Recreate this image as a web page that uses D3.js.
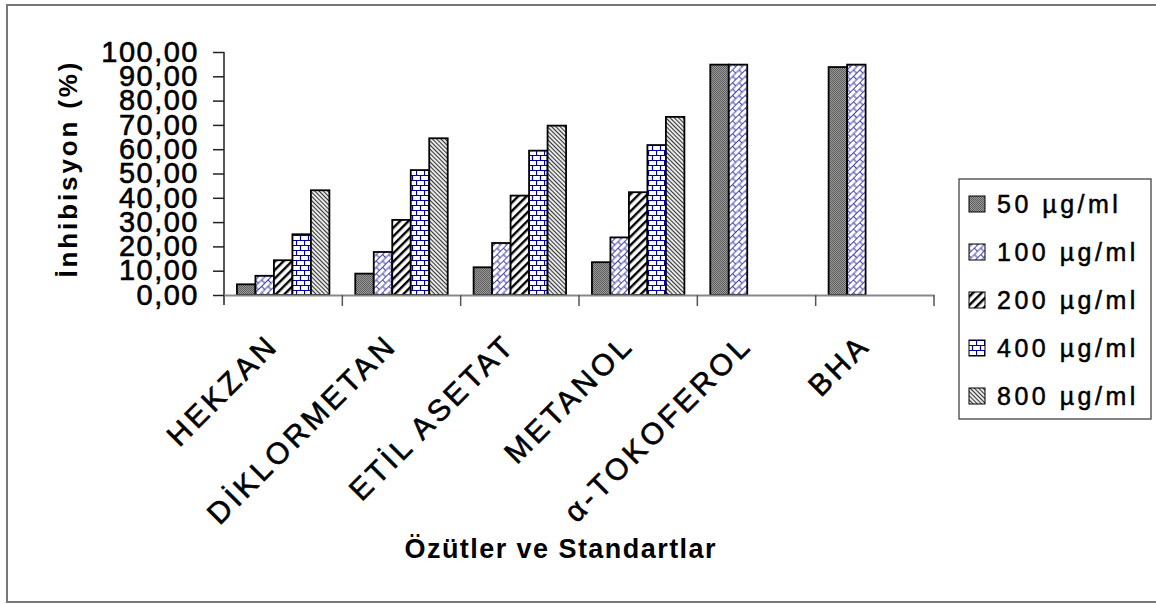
<!DOCTYPE html>
<html><head><meta charset="utf-8">
<script src="https://cdn.jsdelivr.net/npm/d3@7"></script>
<style>body{margin:0;background:#fff}svg{display:block}text{font-family:"Liberation Sans",Arial,sans-serif}</style>
</head><body><svg id="c" width="1156" height="604"></svg>
<script>
const categories = ["HEKZAN","DİKLORMETAN","ETİL ASETAT","METANOL","α-TOKOFEROL","BHA"];
const seriesNames = ["50 µg/ml","100 µg/ml","200 µg/ml","400 µg/ml","800 µg/ml"];
const v50  = [4.4, 8.8, 11.4, 13.5, 94.8, 93.8];
const v100 = [7.9, 17.7, 21.4, 23.7, 94.8, 94.8];
const v200 = [14.3, 30.9, 40.9, 42.3, null, null];
const v400 = [25.0, 51.4, 59.4, 61.7, null, null];
const v800 = [43.1, 64.5, 69.7, 73.3, null, null];
const yTicks = [0,10,20,30,40,50,60,70,80,90,100];
const yTitle = "İnhibisyon (%)";
const xTitle = "Özütler ve Standartlar";

const seriesVals = [v50, v100, v200, v400, v800];
const svg = d3.select("#c");
const defs = svg.append("defs");

// patterns
const p0 = defs.append("pattern").attr("id","p0").attr("patternUnits","userSpaceOnUse").attr("width",2).attr("height",2);
p0.append("rect").attr("width",2).attr("height",2).attr("fill","#999");
p0.append("rect").attr("width",1).attr("height",1).attr("fill","#5e5e5e");
p0.append("rect").attr("x",1).attr("y",1).attr("width",1).attr("height",1).attr("fill","#5e5e5e");

const p1 = defs.append("pattern").attr("id","p1").attr("patternUnits","userSpaceOnUse").attr("width",9).attr("height",9).attr("patternTransform","rotate(-45)");
p1.append("rect").attr("width",9).attr("height",9).attr("fill","#fff");
p1.append("path").attr("d","M0,0.5H9M0,5H9M0.5,0.5V5M5,5V9.5").attr("stroke","#4444b0").attr("stroke-width",1.1).attr("fill","none");

const p2 = defs.append("pattern").attr("id","p2").attr("patternUnits","userSpaceOnUse").attr("width",6).attr("height",6).attr("patternTransform","rotate(45)");
p2.append("rect").attr("width",6).attr("height",6).attr("fill","#fff");
p2.append("rect").attr("width",2.4).attr("height",6).attr("fill","#000");

const p3 = defs.append("pattern").attr("id","p3").attr("patternUnits","userSpaceOnUse").attr("width",8).attr("height",10);
p3.append("rect").attr("width",8).attr("height",10).attr("fill","#fff");
p3.append("path").attr("d","M0,0.5H8M0,5.5H8M0.5,0.5V5.5M4.5,5.5V10").attr("stroke","#000099").attr("stroke-width",1.2).attr("fill","none");

const p4 = defs.append("pattern").attr("id","p4").attr("patternUnits","userSpaceOnUse").attr("width",3).attr("height",3).attr("patternTransform","rotate(-45)");
p4.append("rect").attr("width",3).attr("height",3).attr("fill","#e8e8e8");
p4.append("rect").attr("width",1).attr("height",3).attr("fill","#333");

const fills = ["url(#p0)","url(#p1)","url(#p2)","url(#p3)","url(#p4)"];

// outer border
svg.append("rect").attr("x",7).attr("y",5).attr("width",1170).attr("height",597)
  .attr("fill","none").attr("stroke","#777").attr("stroke-width",2);

const x = d3.scaleBand().domain(categories).range([224, 934]).paddingInner(0).paddingOuter(0);
const cw = x.bandwidth();
const xs = d3.scaleBand().domain(seriesNames).range([cw*0.7/6.4, cw - cw*0.7/6.4]);
const y = d3.scaleLinear().domain([0,100]).range([295, 52]);

// bars
seriesVals.forEach((vals, si) => {
  svg.append("g").selectAll("rect")
    .data(categories.map((c,i)=>({c, v: vals[i]})).filter(d=>d.v!=null))
    .join("rect")
    .attr("x", d => x(d.c) + xs(seriesNames[si]))
    .attr("y", d => y(d.v))
    .attr("width", xs.bandwidth())
    .attr("height", d => y(0) - y(d.v))
    .attr("fill", fills[si])
    .attr("stroke","#000").attr("stroke-width",1.8);
});

// y axis
const ya = svg.append("g").attr("transform","translate(224,0)")
  .call(d3.axisLeft(y).tickValues(yTicks).tickSize(11).tickFormat(d => d3.format(".2f")(d).replace(".",",")));
ya.select(".domain").remove();
ya.selectAll(".tick line").attr("stroke","#222").attr("stroke-width",1.5);
ya.selectAll(".tick text").attr("x",-25).attr("font-size",29).attr("letter-spacing","1.5px")
  .attr("fill","#000").attr("stroke","#000").attr("stroke-width",0.6)
  .attr("font-family","'Liberation Sans',Arial,sans-serif");
svg.append("line").attr("x1",224).attr("x2",224).attr("y1",y(100)).attr("y2",305).attr("stroke","#222").attr("stroke-width",1.5);

// x axis
const xa = svg.append("g").attr("transform","translate(0,295)")
  .call(d3.axisBottom(x).tickSize(0).tickFormat(""));
xa.select(".domain").attr("stroke","#888").attr("stroke-width",2);
const bounds = categories.map(c => x(c)).concat([x.range()[1]]);
svg.append("g").selectAll("line").data(bounds.slice(1)).join("line")
  .attr("x1",d=>d).attr("x2",d=>d).attr("y1",295).attr("y2",306).attr("stroke","#555").attr("stroke-width",1.5);

// category labels
svg.append("g").selectAll("text").data(categories).join("text")
  .attr("transform", d => `translate(${x(d)+cw/2-3},${347}) rotate(-45)`)
  .attr("text-anchor","end")
  .attr("font-size",30).attr("letter-spacing","3.5px")
  .attr("fill","#000").attr("stroke","#000").attr("stroke-width",0.6)
  .text(d=>d);

// axis titles
svg.append("text").attr("transform","translate(77,170) rotate(-90)")
  .attr("text-anchor","middle").attr("font-weight","bold").attr("font-size",26)
  .attr("textLength",215).attr("lengthAdjust","spacing").text(yTitle);
svg.append("text").attr("x",560).attr("y",558)
  .attr("text-anchor","middle").attr("font-weight","bold").attr("font-size",27)
  .attr("textLength",311).attr("lengthAdjust","spacing").text(xTitle);

// legend
const lg = svg.append("g");
lg.append("rect").attr("x",959).attr("y",179).attr("width",192).attr("height",240)
  .attr("fill","#fff").attr("stroke","#333").attr("stroke-width",1.2);
const rowY = d3.scalePoint().domain(seriesNames).range([204, 396]);
seriesNames.forEach((s,i) => {
  lg.append("rect").attr("x",969).attr("y",rowY(s)-8).attr("width",16).attr("height",16)
    .attr("fill",fills[i]).attr("stroke","#000").attr("stroke-width",1);
  lg.append("text").attr("x",997).attr("y",rowY(s)+9).attr("font-size",25)
    .attr("letter-spacing","3.5px").attr("fill","#000").attr("stroke","#000").attr("stroke-width",0.5).text(s);
});
</script></body></html>
